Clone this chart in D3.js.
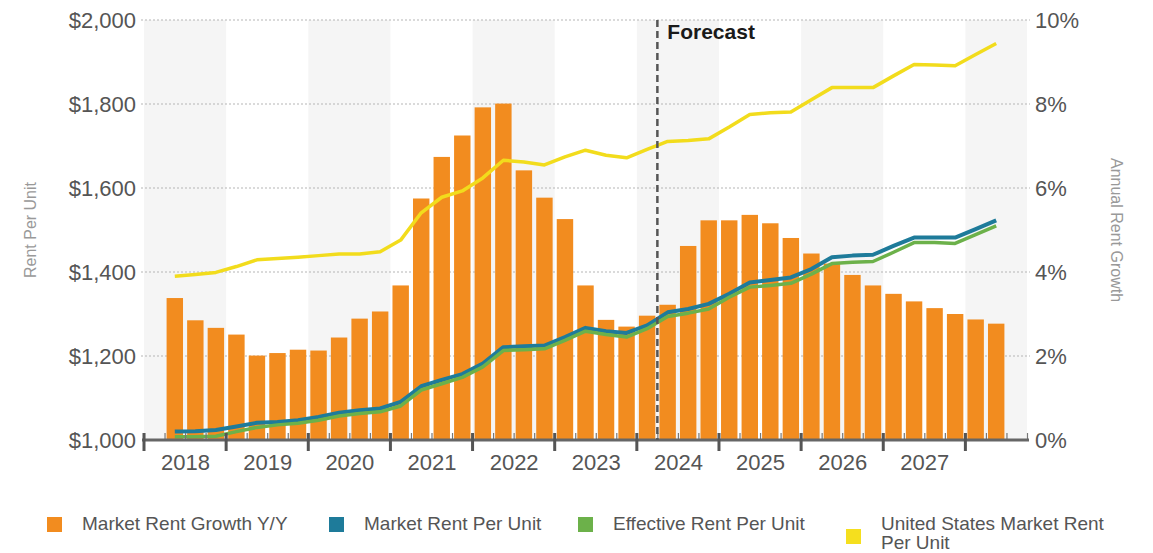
<!DOCTYPE html>
<html>
<head>
<meta charset="utf-8">
<script src="https://cdn.jsdelivr.net/npm/d3@7"></script>
<style>
  html, body { margin: 0; padding: 0; background: #fff; }
  svg text { font-family: "Liberation Sans", Arial, sans-serif; }
</style>
</head>
<body>
<svg id="chart" width="1153" height="553"></svg>
<script>
// Quarterly periods shown on the chart
const periods = [
  "2018Q2","2018Q3","2018Q4","2019Q1","2019Q2","2019Q3","2019Q4",
  "2020Q1","2020Q2","2020Q3","2020Q4","2021Q1","2021Q2","2021Q3","2021Q4",
  "2022Q1","2022Q2","2022Q3","2022Q4","2023Q1","2023Q2","2023Q3","2023Q4",
  "2024Q1","2024Q2","2024Q3","2024Q4","2025Q1","2025Q2","2025Q3","2025Q4",
  "2026Q1","2026Q2","2026Q3","2026Q4","2027Q1","2027Q2","2027Q3","2027Q4",
  "2028Q1","2028Q2"
];
// Market Rent Growth Y/Y (%)
const rentGrowth = [
  3.38,2.85,2.67,2.51,2.01,2.07,2.15,
  2.13,2.44,2.89,3.06,3.68,5.75,6.74,7.25,
  7.92,8.01,6.42,5.77,5.26,3.68,2.86,2.70,
  2.96,3.22,4.62,5.23,5.23,5.36,5.16,4.81,
  4.44,4.20,3.93,3.68,3.48,3.30,3.14,3.00,
  2.87,2.77
];
// Market Rent Per Unit ($)
const marketRent = [
  1020,1021,1024,1032,1041,1043,1047,
  1055,1065,1071,1075,1091,1128,1143,1157,
  1182,1221,1223,1225,1245,1267,1259,1255,
  1273,1304,1312,1324,1348,1375,1381,1387,
  1407,1435,1439,1441,1462,1482,1482,1482,
  1502,1523
];
// Effective Rent Per Unit ($)
const effectiveRent = [
  1008,1008,1009,1020,1030,1036,1040,
  1047,1057,1063,1067,1081,1119,1134,1149,
  1174,1213,1215,1217,1237,1259,1251,1245,
  1265,1294,1302,1312,1340,1364,1368,1373,
  1395,1420,1423,1425,1447,1470,1470,1468,
  1489,1510
];
// United States Market Rent Per Unit ($)
const usRent = [
  1390,1394,1399,1413,1429,1432,1435,
  1439,1443,1443,1448,1476,1541,1578,1593,
  1624,1666,1662,1655,1674,1690,1678,1672,
  1692,1711,1713,1717,1745,1775,1779,1781,
  1810,1839,1839,1839,1867,1894,1893,1891,
  1918,1944
];
const years = [2018,2019,2020,2021,2022,2023,2024,2025,2026,2027];
const rentTicks = [1000,1200,1400,1600,1800,2000];
const growthTicks = [0,2,4,6,8,10];
const forecastStart = "2024Q2";
const legendItems = [
  {label: ["Market Rent Growth Y/Y"], color: "#f28c1f"},
  {label: ["Market Rent Per Unit"], color: "#1e7b9a"},
  {label: ["Effective Rent Per Unit"], color: "#6cb14a"},
  {label: ["United States Market Rent", "Per Unit"], color: "#f5df1e"}
];

const COLORS = { bar: "#f28c1f", market: "#1e7b9a", effective: "#6cb14a", us: "#f2dc1c" };

// period "YYYYQn" -> decimal year at the middle / start of the quarter
function mid(p) { const y = +p.slice(0,4), q = +p.slice(5); return y + (q - 0.5) / 4; }
function start(p) { const y = +p.slice(0,4), q = +p.slice(5); return y + (q - 1) / 4; }

const svg = d3.select("#chart");
const x = d3.scaleLinear().domain([2018, 2028.75]).range([144, 1027]);
const yL = d3.scaleLinear().domain([1000, 2000]).range([440, 20]);
const yR = d3.scaleLinear().domain([0, 10]).range([440, 20]);

// alternating year bands
const bandYears = d3.range(2018, 2029).filter(y => y % 2 === 0);
svg.append("g").selectAll("rect").data(bandYears).join("rect")
  .attr("x", d => x(d))
  .attr("width", d => Math.min(x(d + 1), x.range()[1]) - x(d))
  .attr("y", yL(2000)).attr("height", yL(1000) - yL(2000))
  .attr("fill", "#f5f5f5");

// left axis with dotted gridlines
const gL = svg.append("g").attr("transform", `translate(141,0)`)
  .call(d3.axisLeft(yL).tickValues(rentTicks).tickFormat(d3.format("$,")).tickSize(0).tickPadding(5));
gL.select(".domain").remove();
gL.selectAll("text").attr("font-size", 22).attr("fill", "#555").attr("dy", "0.36em");

svg.append("g").selectAll("line").data(rentTicks.filter(d => d > 1000)).join("line")
  .attr("x1", 141).attr("x2", 1030)
  .attr("y1", d => yL(d)).attr("y2", d => yL(d))
  .attr("stroke", "#b5b5b5").attr("stroke-width", 1).attr("stroke-dasharray", "2,2");

// right axis
const gR = svg.append("g").attr("transform", `translate(1030,0)`)
  .call(d3.axisRight(yR).tickValues(growthTicks).tickFormat(d => d + "%").tickSize(0).tickPadding(5));
gR.select(".domain").remove();
gR.selectAll("text").attr("font-size", 22).attr("fill", "#555").attr("dy", "0.36em");

// bars
const qw = x(2018.25) - x(2018);
const bw = qw * 0.8;
svg.append("g").selectAll("rect").data(periods).join("rect")
  .attr("x", (p) => x(mid(p)) - bw / 2)
  .attr("width", bw)
  .attr("y", (p, i) => yR(rentGrowth[i]))
  .attr("height", (p, i) => yR(0) - yR(rentGrowth[i]))
  .attr("fill", COLORS.bar);

// lines
const line = d3.line().x(d => x(mid(d.p))).y(d => yL(d.v));
function series(vals) { return periods.map((p, i) => ({p, v: vals[i]})); }
svg.append("path").datum(series(usRent)).attr("d", line)
  .attr("fill", "none").attr("stroke", COLORS.us).attr("stroke-width", 3.5).attr("stroke-linejoin", "round");
svg.append("path").datum(series(marketRent)).attr("d", line)
  .attr("fill", "none").attr("stroke", COLORS.market).attr("stroke-width", 4).attr("stroke-linejoin", "round");
svg.append("path").datum(series(effectiveRent)).attr("d", line)
  .attr("fill", "none").attr("stroke", COLORS.effective).attr("stroke-width", 3.5).attr("stroke-linejoin", "round");

// bottom axis: quarter minor ticks, year major ticks, year labels
const quarterTicks = d3.range(0, 44).map(k => 2018 + k / 4);
svg.append("g").attr("transform", "translate(0,440)")
  .call(d3.axisTop(x).tickValues(quarterTicks).tickFormat("").tickSize(7).tickSizeOuter(0))
  .call(g => g.selectAll(".tick line").attr("stroke", "#777").attr("stroke-width", 1.2))
  .call(g => g.select(".domain").remove());
svg.append("line").attr("x1", 142).attr("x2", 1029).attr("y1", 440).attr("y2", 440)
  .attr("stroke", "#666").attr("stroke-width", 3);
svg.append("g").selectAll("line").data(years.concat([2028])).join("line")
  .attr("x1", d => x(d)).attr("x2", d => x(d))
  .attr("y1", 433).attr("y2", 451)
  .attr("stroke", "#555").attr("stroke-width", 3);
const gX = svg.append("g").attr("transform", "translate(0,440)")
  .call(d3.axisBottom(x).tickValues(years.map(y => y + 0.5)).tickFormat(d => String(Math.floor(d))).tickSize(0).tickPadding(14));
gX.select(".domain").remove();
gX.selectAll("text").attr("font-size", 22).attr("fill", "#555");

// forecast divider
const fx = x(start(forecastStart));
svg.append("line").attr("x1", fx).attr("x2", fx).attr("y1", 20).attr("y2", 440)
  .attr("stroke", "#555").attr("stroke-width", 2.5).attr("stroke-dasharray", "7,4");
svg.append("text").attr("x", fx + 10).attr("y", 39).text("Forecast")
  .attr("font-size", 21).attr("font-weight", "bold").attr("fill", "#1a1a1a");

// axis titles
svg.append("text").attr("transform", "translate(36,230) rotate(-90)")
  .attr("text-anchor", "middle").attr("font-size", 16).attr("fill", "#999").text("Rent Per Unit");
svg.append("text").attr("transform", "translate(1111,230) rotate(90)")
  .attr("text-anchor", "middle").attr("font-size", 16).attr("fill", "#999").text("Annual Rent Growth");

// legend
const legendX = [47, 329, 578, 846];
const lg = svg.append("g").selectAll("g").data(legendItems).join("g")
  .attr("transform", (d, i) => `translate(${legendX[i]},0)`);
lg.append("rect")
  .attr("x", 0).attr("width", 15).attr("height", 15)
  .attr("y", d => d.label.length > 1 ? 529 : 517)
  .attr("fill", d => d.color);
lg.each(function(d) {
  const t = d3.select(this).append("text").attr("x", 35).attr("y", 530)
    .attr("font-size", 19).attr("fill", "#555");
  d.label.forEach((s, j) => t.append("tspan").attr("x", 35).attr("dy", j ? 19 : 0).text(s));
});
</script>
</body>
</html>
